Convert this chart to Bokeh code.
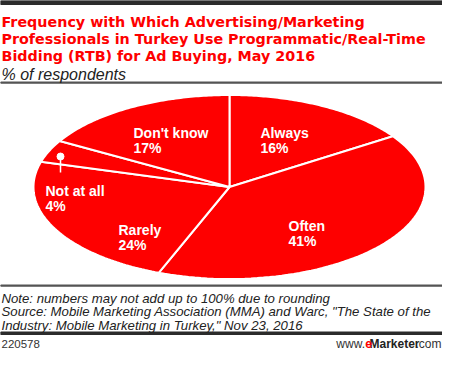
import numpy as np
from bokeh.plotting import figure
from bokeh.models import Range1d, Label, ColumnDataSource
from bokeh.core.properties import value
from bokeh.embed import file_html
from bokeh.resources import INLINE

# ---- data ----
categories = ["Always", "Often", "Rarely", "Not at all", "Don't know"]
values = [16, 41, 24, 4, 17]

title_lines = [
    "Frequency with Which Advertising/Marketing",
    "Professionals in Turkey Use Programmatic/Real-Time",
    "Bidding (RTB) for Ad Buying, May 2016",
]
subtitle = "% of respondents"
note_lines = [
    "Note: numbers may not add up to 100% due to rounding",
    "Source: Mobile Marketing Association (MMA) and Warc, \"The State of the",
    "Industry: Mobile Marketing in Turkey,\" Nov 23, 2016",
]
chart_id = "220578"

# ---- layout (figure pixels, y measured from top) ----
W, H = 442, 350
def Y(y): return H - y

RED = "#fe0000"
FONT = "Liberation Sans"
TFONT = "DejaVu Sans"

p = figure(width=W, height=H, x_range=Range1d(0, W), y_range=Range1d(0, H),
           output_backend="svg", toolbar_location=None, min_border=0)
p.axis.visible = False
p.grid.visible = False
p.outline_line_color = None
p.background_fill_color = "white"
p.border_fill_color = "white"

# rules
p.quad(left=[0], right=[W], top=[Y(0)], bottom=[Y(4)], color="#2b2b2b")
p.quad(left=[0], right=[W], top=[Y(81.5)], bottom=[Y(82.7)], color="#555555")
p.quad(left=[0], right=[W], top=[Y(284.5)], bottom=[Y(285.7)], color="#555555")
p.quad(left=[0], right=[W], top=[Y(331.5)], bottom=[Y(334)], color="#2b2b2b")

# title
for i, t in enumerate(title_lines):
    p.add_layout(Label(x=1, y=Y(21 + 17 * i), text=t, text_font=TFONT,
                       text_font_style="bold", text_font_size="14.3px",
                       text_color=RED, text_baseline="alphabetic"))
p.add_layout(Label(x=1, y=Y(74), text=subtitle, text_font=FONT,
                   text_font_style="italic", text_font_size="16px",
                   text_color="#222222", text_baseline="alphabetic"))

# pie (ellipse)
vals = np.array(values, dtype=float)
frac = vals / vals.sum()
cum = np.concatenate([[0.0], np.cumsum(frac)])
cx, cy = 229, Y(186.5)
a, b = 196, 92
xs, ys = [], []
for i in range(len(vals)):
    t = np.linspace(cum[i], cum[i + 1], 80) * 2 * np.pi
    xs.append(list(np.r_[cx, cx + a * np.sin(t)]))
    ys.append(list(np.r_[cy, cy + b * np.cos(t)]))
p.patches(xs=xs, ys=ys, fill_color=RED, line_color="white", line_width=2)

# slice labels
label_pos = {
    "Always": (260, 132),
    "Often": (288, 225),
    "Rarely": (118, 229),
    "Not at all": (45, 190),
    "Don't know": (133, 132),
}
lx = [label_pos[c][0] for c in categories]
ly1 = [Y(label_pos[c][1]) for c in categories]
ly2 = [Y(label_pos[c][1] + 15) for c in categories]
src = ColumnDataSource(dict(x=lx, y1=ly1, y2=ly2, name=categories,
                            pct=[f"{v}%" for v in values]))
p.text(x="x", y="y1", text="name", source=src, text_font=value(FONT),
       text_font_style="bold", text_font_size="14px", text_color="white",
       text_baseline="alphabetic")
p.text(x="x", y="y2", text="pct", source=src, text_font=value(FONT),
       text_font_style="bold", text_font_size="14px", text_color="white",
       text_baseline="alphabetic")

# callout for small slice
p.segment(x0=[60], y0=[Y(156)], x1=[60], y1=[Y(172)], line_color="white", line_width=1.5)
p.scatter(x=[60], y=[Y(156)], size=7, fill_color="white", line_color="white")

# notes
for i, t in enumerate(note_lines):
    p.add_layout(Label(x=1, y=Y(297.5 + 13.5 * i), text=t, text_font=FONT,
                       text_font_style="italic", text_font_size="13.2px",
                       text_color="#222222", text_baseline="alphabetic"))
p.add_layout(Label(x=1, y=Y(343), text=chart_id, text_font=FONT,
                   text_font_size="11.5px", text_color="#333333", text_baseline="alphabetic"))
for xr, t, col, sty in [(441, ".com", "#333333", "normal"), (419, "Marketer", "#222222", "bold"),
                        (371.5, "e", RED, "bold"), (364.5, "www.", "#333333", "normal")]:
    p.add_layout(Label(x=xr, y=Y(343), text=t, text_font=FONT, text_font_style=sty,
                       text_font_size="12px", text_color=col, text_baseline="alphabetic",
                       text_align="right"))

open("out.html", "w").write(file_html(p, INLINE))
